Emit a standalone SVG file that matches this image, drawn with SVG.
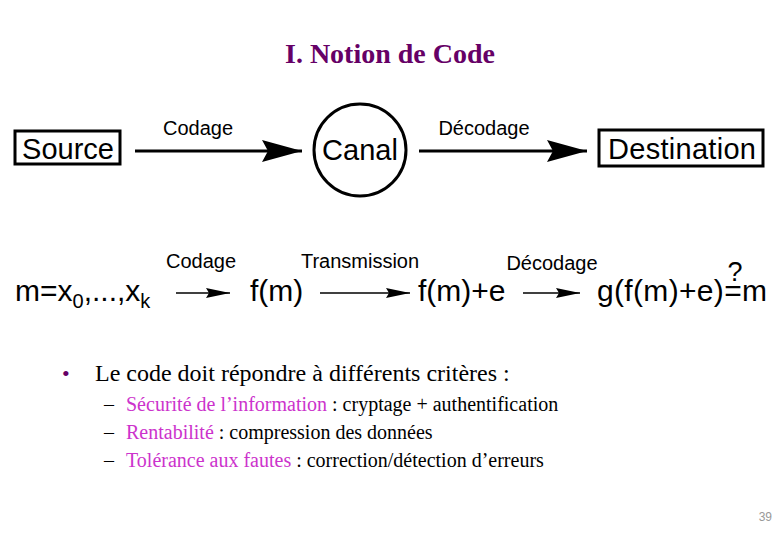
<svg xmlns="http://www.w3.org/2000/svg" width="780" height="540" viewBox="0 0 780 540">
<style>
.sans{font-family:"Liberation Sans",Arial,sans-serif;fill:#000}
.serif{font-family:"Liberation Serif","Times New Roman",serif;fill:#000}
.big{font-size:29px}
.big2{font-size:30px}
.lbl{font-size:20px}
.node{fill:none;stroke:#000;stroke-width:3}
.thick{stroke:#000;stroke-width:3;fill:none}
.thin{stroke:#000;stroke-width:1.3;fill:none}
.mag{fill:#cc33cc}
</style>
<defs>
<marker id="bigArrow" markerUnits="userSpaceOnUse" markerWidth="44" markerHeight="26" refX="40" refY="12" orient="auto">
<path d="M0,1 L40,12 L0,23 L6,12 Z" fill="#000"/>
</marker>
<marker id="smallArrow" markerUnits="userSpaceOnUse" markerWidth="26" markerHeight="12" refX="24" refY="6" orient="auto">
<path d="M0,1 L24,6 L0,11 L3,6 Z" fill="#000"/>
</marker>
</defs>
<rect width="780" height="540" fill="#fff"/>
<text x="390" y="63" text-anchor="middle" font-family="Liberation Serif,Times New Roman,serif" font-size="28" font-weight="bold" fill="#660066">I. Notion de Code</text>

<g id="source">
<rect class="node" x="15" y="131" width="105" height="33"/>
<text class="sans big" x="68" y="159" text-anchor="middle">Source</text>
</g>
<g id="canal">
<circle class="node" cx="360" cy="150" r="46"/>
<text class="sans big" x="360" y="160" text-anchor="middle">Canal</text>
</g>
<g id="destination">
<rect class="node" x="599" y="130" width="164" height="36"/>
<text class="sans big" x="682" y="159" text-anchor="middle" textLength="148">Destination</text>
</g>
<g id="connectors">
<line class="thick" x1="135" y1="151" x2="302" y2="151" marker-end="url(#bigArrow)"/>
<line class="thick" x1="419" y1="151" x2="587" y2="151" marker-end="url(#bigArrow)"/>
<line class="thin" x1="176" y1="293" x2="230" y2="293" marker-end="url(#smallArrow)"/>
<line class="thin" x1="320" y1="293" x2="410" y2="293" marker-end="url(#smallArrow)"/>
<line class="thin" x1="523" y1="293" x2="580" y2="293" marker-end="url(#smallArrow)"/>
</g>
<g id="labels">
<text class="sans lbl" x="198" y="135" text-anchor="middle">Codage</text>
<text class="sans lbl" x="484" y="135" text-anchor="middle">Décodage</text>
<text class="sans lbl" x="201" y="268" text-anchor="middle">Codage</text>
<text class="sans lbl" x="360" y="268" text-anchor="middle">Transmission</text>
<text class="sans lbl" x="552" y="270" text-anchor="middle">Décodage</text>
</g>
<g id="m">
<text class="sans big2" x="15" y="301">m=x<tspan font-size="20" dy="7">0</tspan><tspan dy="-7">,...,x</tspan><tspan font-size="20" dy="7">k</tspan></text>
</g>
<g id="fm">
<text class="sans big2" x="250" y="301">f(m)</text>
</g>
<g id="fme">
<text class="sans big2" x="418" y="301">f(m)+e</text>
</g>
<g id="gfme">
<text class="sans big2" x="597" y="301" textLength="170">g(f(m)+e)=m</text>
<text class="sans" x="735" y="281" font-size="27" text-anchor="middle">?</text>
</g>

<g id="bullets">
<text x="62" y="381" font-family="Liberation Serif,serif" font-size="22" fill="#660066">•</text>
<text class="serif" x="95" y="381" font-size="24">Le code doit répondre à différents critères :</text>
<text class="serif" x="104" y="411" font-size="20">–</text>
<text class="serif" x="126" y="411" font-size="20"><tspan class="mag">Sécurité de l’information</tspan> : cryptage + authentification</text>
<text class="serif" x="104" y="439" font-size="20">–</text>
<text class="serif" x="126" y="439" font-size="20"><tspan class="mag">Rentabilité</tspan> : compression des données</text>
<text class="serif" x="104" y="467" font-size="20">–</text>
<text class="serif" x="126" y="467" font-size="20"><tspan class="mag">Tolérance aux fautes</tspan> : correction/détection d’erreurs</text>
</g>
<text x="772" y="521" text-anchor="end" font-family="Liberation Sans,Arial,sans-serif" font-size="12" fill="#999">39</text>
</svg>
